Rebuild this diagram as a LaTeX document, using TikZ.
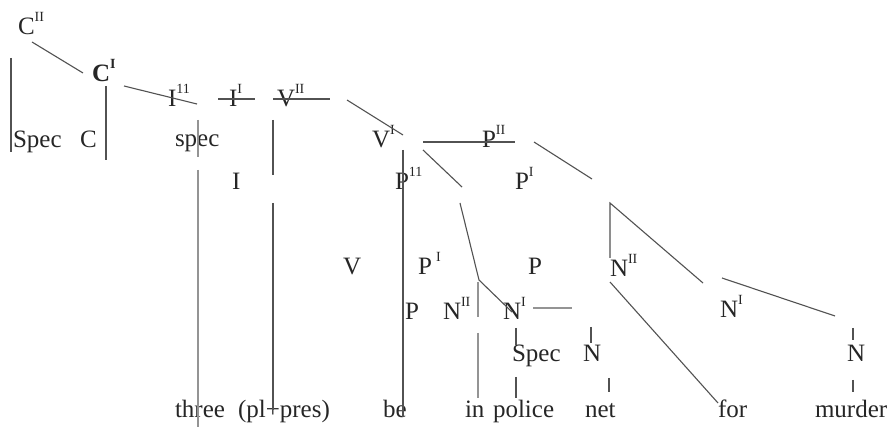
\documentclass[tikz,border=0pt]{standalone}
\usepackage{fontspec}
\setmainfont{Liberation Serif}
\newcommand{\supr}[1]{\raisebox{0.55em}{\fontsize{14}{14}\selectfont #1}}
\begin{document}
\begin{tikzpicture}[x=1pt,y=-1pt,
  lbl/.style={anchor=base west,inner sep=0pt,outer sep=0pt,text=black!85,font=\fontsize{25}{25}\selectfont},
  br/.style={draw=black!68,line width=1.1pt},
  lbr/.style={draw=black!42,line width=1.5pt}]
\useasboundingbox[fill=white] (0,0) rectangle (895,427);
% labels
\node[lbl] (cbar2) at (18,35) {C\supr{II}};
\node[lbl] (spec1) at (13,148) {Spec};
\node[lbl] (c) at (80,148) {C};
\node[lbl] (cbar1) at (92,82) {\bfseries C\supr{I}};
\node[lbl] (ibar2) at (168,107) {I\supr{11}};
\node[lbl] (ibar1) at (229,107) {I\supr{I}};
\node[lbl] (vbar2) at (277,107) {V\supr{II}};
\node[lbl] (spec2) at (175,147) {spec};
\node[lbl] (i) at (232,190) {I};
\node[lbl] (vbar1) at (372,148) {V\supr{I}};
\node[lbl] (pbar2a) at (482,148) {P\supr{II}};
\node[lbl] (pbar2b) at (395,190) {P\supr{11}};
\node[lbl] (pbar1a) at (515,190) {P\supr{I}};
\node[lbl] (v) at (343,275) {V};
\node[lbl] (pbar1b) at (418,275) {P\,\supr{I}};
\node[lbl] (pa) at (528,275) {P};
\node[lbl] (nbar2a) at (610,277) {N\supr{II}};
\node[lbl] (pb) at (405,320) {P};
\node[lbl] (nbar2b) at (443,320) {N\supr{II}};
\node[lbl] (nbar1b) at (503,320) {N\supr{I}};
\node[lbl] (nbar1a) at (720,318) {N\supr{I}};
\node[lbl] (spec3) at (512,362) {Spec};
\node[lbl] (na) at (583,362) {N};
\node[lbl] (nb) at (847,362) {N};
\node[lbl] (w1) at (175,418) {three};
\node[lbl] (w2) at (238,418) {(pl+pres)};
\node[lbl] (w3) at (383,418) {be};
\node[lbl] (w4) at (465,418) {in};
\node[lbl] (w5) at (493,418) {police};
\node[lbl] (w6) at (585,418) {net};
\node[lbl] (w7) at (718,418) {for};
\node[lbl] (w8) at (815,418) {murder};
% branches
\draw[br] (11,58) -- (11,152);
\draw[br] (32,42) -- (83,73);
\draw[br] (106,86) -- (106,160);
\draw[br] (124,86) -- (197,104);
\draw[br] (218,99) -- (255,99);
\draw[br] (273,99) -- (330,99);
\draw[br] (347,100) -- (403,135);
\draw[br] (423,142) -- (515,142);
\draw[br] (534,142) -- (592,179);
\draw[lbr] (198,120) -- (198,157);
\draw[lbr] (198,170) -- (198,427);
\draw[br] (273,120) -- (273,175);
\draw[br] (273,203) -- (273,410);
\draw[br] (403,150) -- (403,417);
\draw[br] (423,150) -- (462,187);
\draw[br] (460,203) -- (479,280) -- (512,312);
\draw[lbr] (478,282) -- (478,317);
\draw[lbr] (478,333) -- (478,398);
\draw[lbr] (533,308) -- (572,308);
\draw[br] (516,328) -- (516,345);
\draw[br] (516,377) -- (516,398);
\draw[br] (591,327) -- (591,343);
\draw[br] (609,378) -- (609,392);
\draw[br] (610,258) -- (610,203) -- (703,283);
\draw[br] (610,282) -- (718,403);
\draw[br] (722,278) -- (835,316);
\draw[br] (853,328) -- (853,340);
\draw[br] (853,380) -- (853,392);
\end{tikzpicture}
\end{document}
